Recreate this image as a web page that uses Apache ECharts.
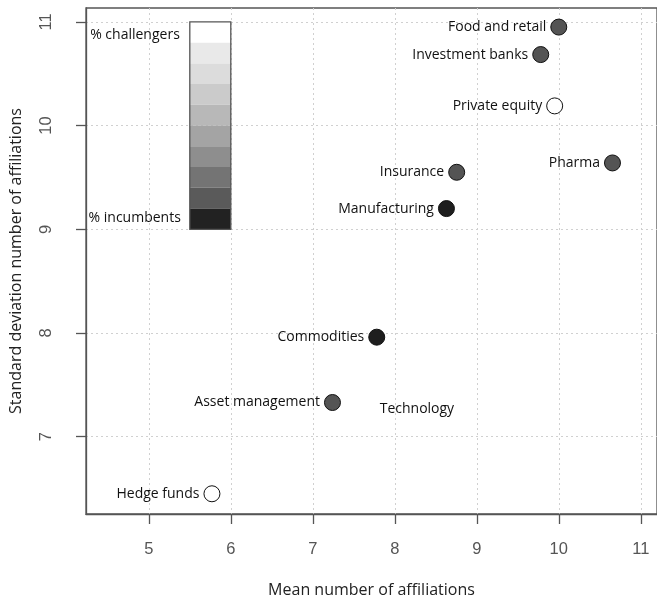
<!DOCTYPE html>
<html><head><meta charset="utf-8">
<script src="https://cdn.jsdelivr.net/npm/echarts@6/dist/echarts.min.js"></script>
<style>html,body{margin:0;padding:0;background:#fff}#c{width:657px;height:603px}</style>
</head><body><div id="c"></div>
<script>
const sectors = ['Food and retail','Investment banks','Private equity','Pharma','Insurance','Manufacturing','Commodities','Asset management','Technology','Hedge funds'];
const meanAffiliations = [10.0, 9.78, 9.95, 10.655, 8.755, 8.63, 7.78, 7.24, 8.87, 5.77];
const sdAffiliations = [10.95, 10.685, 10.19, 9.64, 9.55, 9.20, 7.96, 7.33, 7.27, 6.45];
const composition = ['mixed','mixed','challengers','mixed','mixed','incumbents','incumbents','mixed','none','challengers'];
const xTicks = [5,6,7,8,9,10,11];
const yTicks = [7,8,9,10,11];
const legendShades = ['#ffffff','#e9e9e9','#dcdcdc','#cbcbcb','#b8b8b8','#a4a4a4','#8e8e8e','#747474','#5a5a5a','#222222'];
const legendX = [5.5, 6];
const legendY = [11, 9];
const legendLabels = ['% challengers','% incumbents'];

const fillOf = {mixed:'#545454', incumbents:'#1e1e1e', challengers:'#ffffff', none:'rgba(0,0,0,0)'};
const labelFont = '"Open Sans", sans-serif';

const chart = echarts.init(document.getElementById('c'), null, {renderer:'canvas'});

const pointData = sectors.map((s,i)=>({
  value:[meanAffiliations[i], sdAffiliations[i]],
  name:s,
  itemStyle:{
    color: fillOf[composition[i]],
    borderColor: composition[i]==='none' ? 'rgba(0,0,0,0)' : '#111',
    borderWidth: composition[i]==='none' ? 0 : 1,
    opacity:1
  }
}));

const nBands = legendShades.length;
const bandStep = (legendY[0]-legendY[1])/nBands;

chart.setOption({
  animation:false,
  backgroundColor:'#fff',
  grid:{left:86, top:8, right:-1, bottom:84, show:true, borderColor:'#555', borderWidth:1.3, backgroundColor:'transparent'},
  xAxis:{
    type:'value', min:4.234, max:11.198,
    name:'Mean number of affiliations', nameLocation:'middle', nameGap:68,
    nameTextStyle:{fontFamily:labelFont, fontSize:16, color:'#222'},
    axisLine:{show:true, onZero:false, lineStyle:{color:'#555', width:1.3}},
    axisTick:{show:true, length:10, customValues:xTicks, lineStyle:{color:'#555', width:1.3}},
    axisLabel:{customValues:xTicks, margin:27, fontFamily:'"Liberation Sans", Arial, sans-serif', fontSize:16.5, color:'#555'},
    splitLine:{show:true, lineStyle:{color:'#d0d0d0', type:[2,3], width:1}}
  },
  yAxis:{
    type:'value', min:6.255, max:11.134,
    name:'Standard deviation number of affiliations', nameLocation:'middle', nameGap:62,
    nameTextStyle:{fontFamily:labelFont, fontSize:16, color:'#222'},
    axisLine:{show:true, onZero:false, lineStyle:{color:'#555', width:1.3}},
    axisTick:{show:true, length:10, customValues:yTicks, lineStyle:{color:'#555', width:1.3}},
    axisLabel:{customValues:yTicks, rotate:90, margin:31, fontFamily:'"Liberation Sans", Arial, sans-serif', fontSize:16.5, color:'#555'},
    splitLine:{show:true, lineStyle:{color:'#d0d0d0', type:[2,3], width:1}}
  },
  series:[
    {
      type:'custom',
      silent:true,
      z:3,
      data: legendShades.map((c,i)=>[i]),
      renderItem:function(params, api){
        const i = api.value(0);
        const tl = api.coord([legendX[0], legendY[0]-i*bandStep]);
        const br = api.coord([legendX[1], legendY[0]-(i+1)*bandStep]);
        const children = [{
          type:'rect',
          shape:{x:tl[0], y:tl[1], width:br[0]-tl[0], height:br[1]-tl[1]},
          style:{fill:legendShades[i], stroke:null}
        }];
        if(i===0){
          const a = api.coord([legendX[0], legendY[0]]);
          const b = api.coord([legendX[1], legendY[1]]);
          children.push({type:'rect', shape:{x:a[0], y:a[1], width:b[0]-a[0], height:b[1]-a[1]}, style:{fill:null, stroke:'#555', lineWidth:1.3}, z2:10});
          children.push({type:'text', x:a[0]-10, y:a[1]+13, style:{text:legendLabels[0], align:'right', verticalAlign:'middle', font:'14px '+labelFont, fill:'#111'}});
          children.push({type:'text', x:a[0]-9, y:b[1]-11, style:{text:legendLabels[1], align:'right', verticalAlign:'middle', font:'14px '+labelFont, fill:'#111'}});
        }
        return {type:'group', children:children};
      }
    },
    {
      type:'scatter',
      z:4,
      symbol:'circle',
      symbolSize:16,
      data:pointData,
      label:{show:true, position:'left', distance:4, formatter:'{b}', fontFamily:labelFont, fontSize:14, color:'#111'}
    }
  ]
});
</script></body></html>
